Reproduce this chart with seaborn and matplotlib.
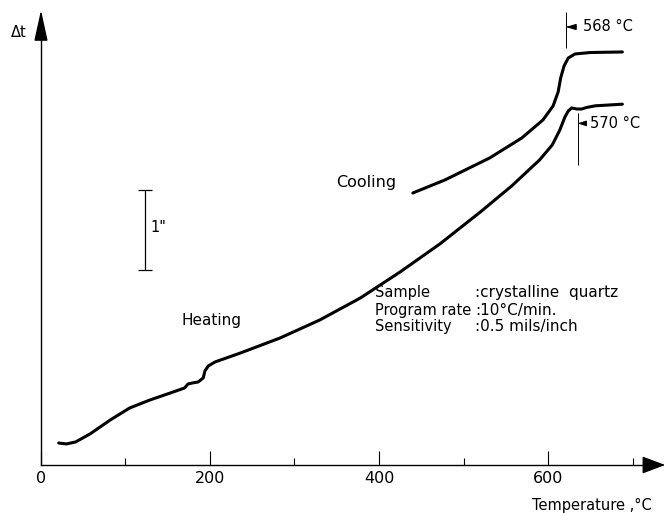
import matplotlib
matplotlib.use("Agg")
import matplotlib.pyplot as plt
import seaborn as sns
import pandas as pd

# heating curve, temperature in deg C (as drawn on the axis), delta t in inches of deflection
heat_temp = [21, 30, 41, 58, 82, 105, 129, 153, 170, 174, 179, 186, 192, 194, 198, 206,
             236, 283, 330, 378, 425, 472, 520, 557, 590, 605, 614, 620, 624, 628,
             634, 640, 646, 656, 688]
heat_dt = [0.275, 0.263, 0.288, 0.388, 0.563, 0.713, 0.813, 0.9, 0.963, 1.013, 1.025,
           1.038, 1.088, 1.175, 1.238, 1.288, 1.4, 1.588, 1.813, 2.088, 2.413, 2.763,
           3.163, 3.488, 3.813, 4.0, 4.188, 4.35, 4.425, 4.463, 4.45, 4.45, 4.47,
           4.49, 4.51]

# cooling curve
cool_temp = [440, 478, 531, 569, 594, 606, 612, 615, 619, 624, 632, 650, 688]
cool_dt = [3.4, 3.563, 3.838, 4.088, 4.313, 4.488, 4.663, 4.838, 4.988, 5.088, 5.138,
           5.156, 5.163]

major_ticks = [0, 200, 400, 600]
minor_ticks = [100, 300, 500, 700]

# where the transition marks are drawn, and what they read
mark_cool_x, mark_cool_label = 621, "568 \u00b0C"
mark_heat_x, mark_heat_label = 635, "570 \u00b0C"

info_keys = ["Sample", "Program rate", "Sensitivity"]
info_vals = [":crystalline  quartz", ":10\u00b0C/min.", ":0.5 mils/inch"]

sns.set_theme(style="white")
plt.rcParams["font.family"] = ["DejaVu Sans"]
plt.rcParams["text.color"] = "black"

fig = plt.figure(figsize=(6.68, 5.13), dpi=100)
ax = fig.add_axes([0, 0, 1, 1])

heat = pd.DataFrame({"T": heat_temp, "dt": heat_dt})
cool = pd.DataFrame({"T": cool_temp, "dt": cool_dt})
sns.lineplot(data=heat, x="T", y="dt", sort=False, estimator=None, color="black", lw=2.2, ax=ax)
sns.lineplot(data=cool, x="T", y="dt", sort=False, estimator=None, color="black", lw=2.2, ax=ax)

ax.set_xlim(-48.5, 742)
ax.set_ylim(-0.6, 5.8125)

# axes drawn as arrows through the origin
for s in ["top", "right"]:
    ax.spines[s].set_visible(False)
ax.spines["left"].set_position(("data", 0))
ax.spines["bottom"].set_position(("data", 0))
ax.spines["left"].set_bounds(0, 5.4)
ax.spines["bottom"].set_bounds(0, 722)
for s in ["left", "bottom"]:
    ax.spines[s].set_color("black")
    ax.spines[s].set_linewidth(1.0)
ax.annotate("", xy=(742, 0), xytext=(715, 0),
            arrowprops=dict(arrowstyle="-|>,head_length=1.2,head_width=0.45", color="black", lw=1))
ax.annotate("", xy=(0, 5.72), xytext=(0, 5.3),
            arrowprops=dict(arrowstyle="-|>,head_length=1.6,head_width=0.35", color="black", lw=1))

ax.set_xticks(major_ticks)
ax.set_xticks(minor_ticks, minor=True)
ax.set_xticklabels([str(t) for t in major_ticks])
ax.set_yticks([])
ax.tick_params(axis="x", which="major", direction="in", length=10, width=0.8,
               labelsize=11.5, pad=4, colors="black", bottom=True)
ax.tick_params(axis="x", which="minor", direction="in", length=5, width=0.8,
               colors="black", bottom=True)
ax.set_xlabel("")
ax.set_ylabel("")

ax.text(652, -0.5, "Temperature ,\u00b0C", ha="center", va="center", fontsize=10.5)
ax.text(-26, 5.4, "\u0394t", ha="center", va="center", fontsize=10.5)

# 1 inch scale bar
ax.vlines(123, 2.4375, 3.4375, color="black", lw=0.9)
ax.hlines([2.4375, 3.4375], 115, 131.5, color="black", lw=0.9)
ax.text(130, 2.97, "1\"", ha="left", va="center", fontsize=10.5)

ax.text(385, 3.525, "Cooling", ha="center", va="center", fontsize=11.5)
ax.text(202, 1.81, "Heating", ha="center", va="center", fontsize=11)

# transition marks
ax.vlines(mark_cool_x, 5.21, 5.66, color="black", lw=0.7)
ax.annotate(mark_cool_label, xy=(mark_cool_x, 5.475), xytext=(641, 5.475),
            ha="left", va="center", fontsize=10.5,
            arrowprops=dict(arrowstyle="-|>,head_length=0.6,head_width=0.18", color="black",
                            lw=0.7, shrinkA=2, shrinkB=0))
ax.vlines(mark_heat_x, 3.75, 4.40, color="black", lw=0.7)
ax.annotate(mark_heat_label, xy=(mark_heat_x, 4.27), xytext=(650, 4.27),
            ha="left", va="center", fontsize=10.5,
            arrowprops=dict(arrowstyle="-|>,head_length=0.5,head_width=0.16", color="black",
                            lw=0.7, shrinkA=2, shrinkB=0))

rows_y = [2.1625, 1.9375, 1.725]
for k, v, yy in zip(info_keys, info_vals, rows_y):
    ax.text(395, yy, k, ha="left", va="center", fontsize=10.5)
    ax.text(514, yy, v, ha="left", va="center", fontsize=11)

fig.savefig("out.png", dpi=100)
